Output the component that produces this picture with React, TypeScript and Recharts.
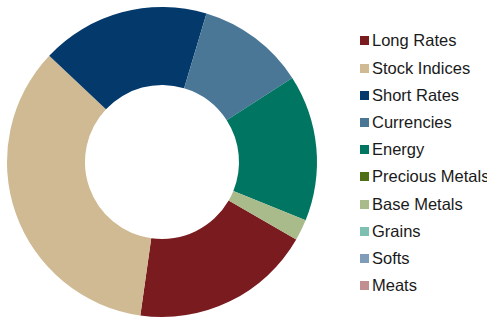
import React from 'react';
import { PieChart, Pie, Cell, Legend } from 'recharts';

const sectors = [
  'Long Rates',
  'Stock Indices',
  'Short Rates',
  'Currencies',
  'Energy',
  'Precious Metals',
  'Base Metals',
  'Grains',
  'Softs',
  'Meats',
];
const weights = [18.9, 34.8, 17.6, 11.25, 15.25, 0, 2.2, 0, 0, 0];
const colors = [
  '#7a1b1f',
  '#cfba94',
  '#033a6b',
  '#4b7797',
  '#007562',
  '#4f6e15',
  '#a9ba8b',
  '#7dbfb1',
  '#7f9cb9',
  '#c28f90',
];

const data = sectors.map((name, i) => ({ name, value: weights[i] }));

const LegendList = () => (
  <div style={{ fontFamily: '"Liberation Sans", Arial, sans-serif', fontSize: 16.5, color: '#1a1a1a' }}>
    {sectors.map((name, i) => (
      <div key={name} style={{ height: 27.2, display: 'flex', alignItems: 'center', whiteSpace: 'nowrap' }}>
        <span style={{ width: 9, height: 9, background: colors[i], display: 'inline-block', marginRight: 3 }} />
        <span>{name}</span>
      </div>
    ))}
  </div>
);

export default function App() {
  return (
    <div style={{ width: 487, height: 318, background: '#fff', overflow: 'hidden' }}>
      <style>{'body{margin:0}'}</style>
      <PieChart width={487} height={318} margin={{ top: 0, right: 0, bottom: 0, left: 0 }}>
        <Pie
          data={data}
          dataKey="value"
          nameKey="name"
          cx={162}
          cy={162}
          innerRadius={77}
          outerRadius={155}
          startAngle={-30}
          endAngle={-390}
          stroke="none"
          isAnimationActive={false}
        >
          {data.map((d, i) => (
            <Cell key={d.name} fill={colors[i]} />
          ))}
        </Pie>
        <Legend
          content={() => <LegendList />}
          wrapperStyle={{ left: 360, top: 27.4, width: 140 }}
        />
      </PieChart>
    </div>
  );
}
